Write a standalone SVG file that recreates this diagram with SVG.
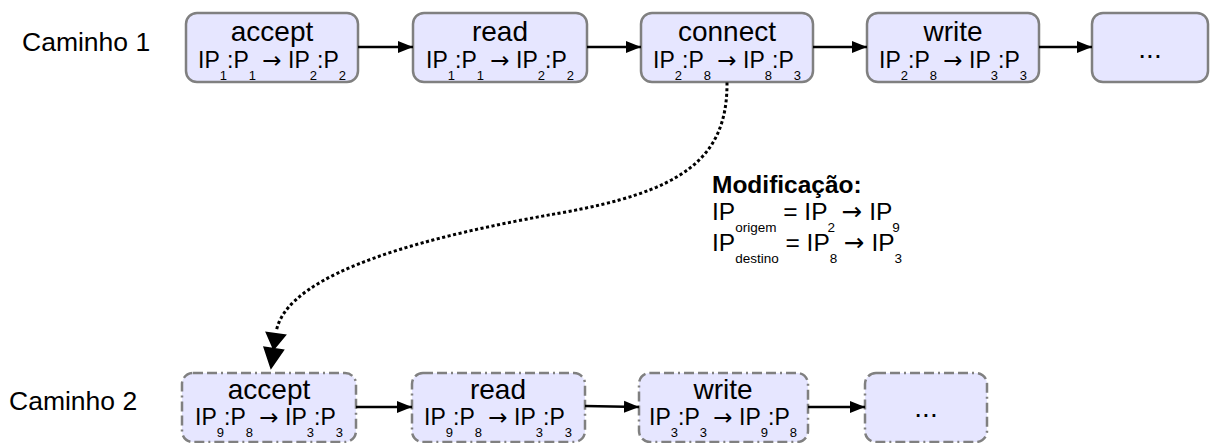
<svg xmlns="http://www.w3.org/2000/svg" width="1212" height="443" viewBox="0 0 1212 443">
  <style>
    text { font-family: "Liberation Sans", Arial, sans-serif; fill: #000; }
    .box { fill: #e6e6ff; stroke: #808080; stroke-width: 2.5; }
    .box2 { fill: #e6e6ff; stroke: #808080; stroke-width: 2.5; stroke-dasharray: 10 4 10 4 2 4; }
    .lbl { font-size: 28px; text-anchor: middle; }
    .ip { font-size: 23px; text-anchor: middle; }
    .sub { font-size: 13px; }
    .arr { font-family: "DejaVu Sans", sans-serif; }
    .path { font-size: 26.5px; }
    .edge { stroke: #000; stroke-width: 2.5; fill: none; marker-end: url(#arrow); }
    .mod { font-size: 24.5px; }
    .msub { font-size: 13.5px; }
  </style>
  <defs>
    <marker id="arrow" markerUnits="userSpaceOnUse" markerWidth="17" markerHeight="14" viewBox="0 -7 17 14" refX="15" refY="0" orient="auto">
      <path d="M0,-6 L15,0 L0,6 Z" fill="#000"/>
    </marker>
    <marker id="dblhead" markerUnits="userSpaceOnUse" markerWidth="40" markerHeight="26" viewBox="0 -13 40 26" refX="0" refY="0" orient="auto" overflow="visible">
      <path d="M0,-11 L18,0 L0,11 Z M15,-11 L37,0 L15,11 Z" fill="#000"/>
    </marker>
  </defs>

  <!-- row labels -->
  <text class="path" x="22" y="51">Caminho 1</text>
  <text class="path" x="9" y="410">Caminho 2</text>

  <!-- path 1 -->
  <g id="p1-accept">
    <rect class="box" x="186" y="13" width="172" height="69" rx="11"/>
    <text class="lbl" x="272" y="41">accept</text>
    <text class="ip" x="272" y="68">IP<tspan class="sub" dy="12">1</tspan><tspan dy="-12">:P</tspan><tspan class="sub" dy="12">1</tspan><tspan dy="-12"> </tspan><tspan class="arr">→</tspan> IP<tspan class="sub" dy="12">2</tspan><tspan dy="-12">:P</tspan><tspan class="sub" dy="12">2</tspan></text>
  </g>
  <g id="p1-read">
    <rect class="box" x="413" y="13" width="174" height="69" rx="11"/>
    <text class="lbl" x="500" y="41">read</text>
    <text class="ip" x="500" y="68">IP<tspan class="sub" dy="12">1</tspan><tspan dy="-12">:P</tspan><tspan class="sub" dy="12">1</tspan><tspan dy="-12"> </tspan><tspan class="arr">→</tspan> IP<tspan class="sub" dy="12">2</tspan><tspan dy="-12">:P</tspan><tspan class="sub" dy="12">2</tspan></text>
  </g>
  <g id="p1-connect">
    <rect class="box" x="641" y="13" width="172" height="69" rx="11"/>
    <text class="lbl" x="727" y="41">connect</text>
    <text class="ip" x="727" y="68">IP<tspan class="sub" dy="12">2</tspan><tspan dy="-12">:P</tspan><tspan class="sub" dy="12">8</tspan><tspan dy="-12"> </tspan><tspan class="arr">→</tspan> IP<tspan class="sub" dy="12">8</tspan><tspan dy="-12">:P</tspan><tspan class="sub" dy="12">3</tspan></text>
  </g>
  <g id="p1-write">
    <rect class="box" x="867" y="13" width="172" height="69" rx="11"/>
    <text class="lbl" x="953" y="41">write</text>
    <text class="ip" x="953" y="68">IP<tspan class="sub" dy="12">2</tspan><tspan dy="-12">:P</tspan><tspan class="sub" dy="12">8</tspan><tspan dy="-12"> </tspan><tspan class="arr">→</tspan> IP<tspan class="sub" dy="12">3</tspan><tspan dy="-12">:P</tspan><tspan class="sub" dy="12">3</tspan></text>
  </g>
  <g id="p1-more">
    <rect class="box" x="1092" y="13" width="116" height="69" rx="11"/>
    <text class="lbl" x="1150" y="58">...</text>
  </g>

  <!-- path 2 -->
  <g id="p2-accept">
    <rect class="box2" x="182" y="373" width="174" height="69" rx="11"/>
    <text class="lbl" x="269" y="399">accept</text>
    <text class="ip" x="269" y="425">IP<tspan class="sub" dy="12">9</tspan><tspan dy="-12">:P</tspan><tspan class="sub" dy="12">8</tspan><tspan dy="-12"> </tspan><tspan class="arr">→</tspan> IP<tspan class="sub" dy="12">3</tspan><tspan dy="-12">:P</tspan><tspan class="sub" dy="12">3</tspan></text>
  </g>
  <g id="p2-read">
    <rect class="box2" x="412" y="373" width="173" height="69" rx="11"/>
    <text class="lbl" x="498" y="399">read</text>
    <text class="ip" x="498" y="425">IP<tspan class="sub" dy="12">9</tspan><tspan dy="-12">:P</tspan><tspan class="sub" dy="12">8</tspan><tspan dy="-12"> </tspan><tspan class="arr">→</tspan> IP<tspan class="sub" dy="12">3</tspan><tspan dy="-12">:P</tspan><tspan class="sub" dy="12">3</tspan></text>
  </g>
  <g id="p2-write">
    <rect class="box2" x="639" y="373" width="169" height="69" rx="11"/>
    <text class="lbl" x="723" y="399">write</text>
    <text class="ip" x="723" y="425">IP<tspan class="sub" dy="12">3</tspan><tspan dy="-12">:P</tspan><tspan class="sub" dy="12">3</tspan><tspan dy="-12"> </tspan><tspan class="arr">→</tspan> IP<tspan class="sub" dy="12">9</tspan><tspan dy="-12">:P</tspan><tspan class="sub" dy="12">8</tspan></text>
  </g>
  <g id="p2-more">
    <rect class="box2" x="865" y="373" width="122" height="69" rx="11"/>
    <text class="lbl" x="926" y="417">...</text>
  </g>

  <!-- modification note -->
  <g id="note">
    <text class="mod" x="712" y="193" font-weight="bold">Modificação:</text>
    <text class="mod" x="712" y="220">IP<tspan class="msub" dy="12">origem</tspan><tspan dy="-12"> = IP</tspan><tspan class="msub" dy="12">2</tspan><tspan dy="-12"> </tspan><tspan class="arr">→</tspan> IP<tspan class="msub" dy="12">9</tspan></text>
    <text class="mod" x="712" y="251">IP<tspan class="msub" dy="12">destino</tspan><tspan dy="-12"> = IP</tspan><tspan class="msub" dy="12">8</tspan><tspan dy="-12"> </tspan><tspan class="arr">→</tspan> IP<tspan class="msub" dy="12">3</tspan></text>
  </g>

  <!-- connectors -->
  <g id="edges">
    <line class="edge" x1="358" y1="47" x2="413" y2="47"/>
    <line class="edge" x1="587" y1="47" x2="641" y2="47"/>
    <line class="edge" x1="813" y1="47" x2="867" y2="47"/>
    <line class="edge" x1="1039" y1="47" x2="1092" y2="47"/>
    <line class="edge" x1="356" y1="407" x2="412" y2="407"/>
    <line class="edge" x1="585" y1="406" x2="639" y2="407"/>
    <line class="edge" x1="808" y1="407" x2="865" y2="407"/>
    <path d="M727,84 C727,160 680,192 560,213 C440,234 285,270 276,333" fill="none" stroke="#000" stroke-width="3" stroke-dasharray="0.1 5.5" stroke-linecap="square" marker-end="url(#dblhead)"/>
  </g>
</svg>
